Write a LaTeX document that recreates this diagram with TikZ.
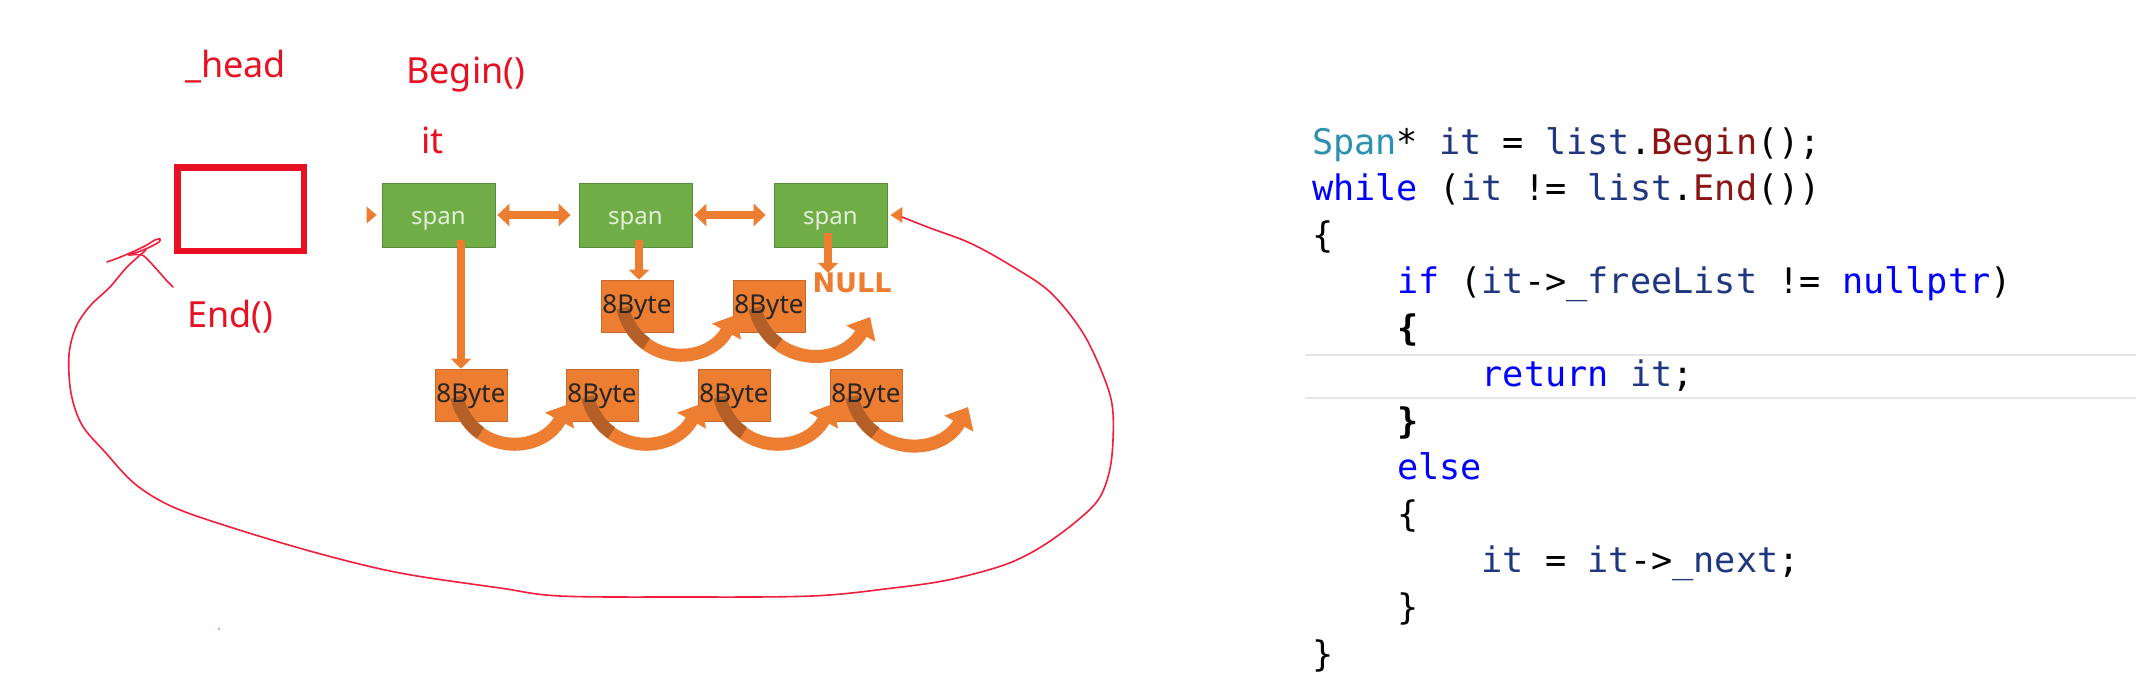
\documentclass[tikz,border=0pt]{standalone}
\usepackage{fontspec}
\setmainfont{Noto Sans}
\newfontfamily\codefont{DejaVu Sans Mono}
\newfontfamily\heavysans{DejaVu Sans}
\usetikzlibrary{arrows.meta,calc}
\definecolor{redlbl}{RGB}{232,17,35}
\definecolor{redpen}{RGB}{240,30,60}
\definecolor{spangreen}{RGB}{112,173,71}
\definecolor{spanedge}{RGB}{90,140,60}
\definecolor{spantext}{RGB}{226,240,217}
\definecolor{orng}{RGB}{237,125,49}
\definecolor{orngdark}{RGB}{181,95,40}
\definecolor{orngedge}{RGB}{200,105,45}
\definecolor{cType}{RGB}{43,145,175}
\definecolor{cVar}{RGB}{31,55,127}
\definecolor{cFun}{RGB}{140,20,20}
\definecolor{cKey}{RGB}{0,0,255}
\definecolor{hl}{RGB}{228,228,234}
\begin{document}
\begin{tikzpicture}[x=1pt,y=-1pt,
  lbl/.style={text=redlbl, font=\fontsize{36}{40}\selectfont, inner sep=0pt, anchor=base west},
  spanbox/.style={fill=spangreen, draw=spanedge, line width=0.8pt, minimum width=113pt, minimum height=64pt, inner sep=0pt, text=spantext, font=\fontsize{24}{28}\selectfont, text height=19pt, text depth=0pt},
  bytebox/.style={fill=orng, draw=orngedge, line width=0.6pt, minimum width=72pt, minimum height=52pt, inner sep=0pt},
  bytetext/.style={text=black!85, font=\fontsize{26}{30}\selectfont, inner sep=0pt, anchor=base},
  nulltext/.style={text=orng, font=\heavysans\bfseries\fontsize{27}{32}\selectfont, inner sep=0pt},
  dbl/.style={draw=orng, line width=8pt, {Triangle[length=12pt,width=22pt]}-{Triangle[length=12pt,width=22pt]}},
  down/.style={draw=orng, line width=8pt, -{Triangle[length=10pt,width=20pt]}},
  curl/.style={draw=orng, line width=13pt, -{Triangle[length=19pt,width=32pt]}},
  curlback/.style={draw=orngdark, line width=13pt, dash pattern=on 44pt off 2000pt},
  pen/.style={draw=redpen, line width=1.6pt, line cap=round, line join=round},
  code/.style={font=\codefont\fontsize{35.2}{40}\selectfont, inner sep=0pt, anchor=base west},
]
\fill[white] (0,0) rectangle (2136,688);
\useasboundingbox (0,0) rectangle (2136,688);

% red labels
\node[lbl] (head) at (185,77) {\_head};
\node[lbl] (begin) at (406,83) {Begin()};
\node[lbl] (it) at (421,153) {it};
\node[lbl] (end) at (187,327) {End()};
\node[draw=redlbl, line width=6.5pt, minimum width=126.5pt, minimum height=83.5pt, inner sep=0pt] (headbox) at (240.5,209) {};

% spans
\node[spanbox] (s1) at (438.5,215) {span};
\node[spanbox] (s2) at (635.5,215) {span};
\node[spanbox] (s3) at (830.5,215) {span};

\fill[orng] ($(s1.west)+(-5,0)$) -- ++(-10,-8.5) -- ++(0,17) -- cycle;
\fill[orng] ($(s3.east)+(3,0)$) -- ++(12,-8) -- ++(0,16) -- cycle;

\draw[dbl] ($(s1.east)+(2,0)$) -- ($(s2.west)+(-8,0)$);
\draw[dbl] ($(s2.east)+(2,0)$) -- ($(s3.west)+(-8,0)$);

% byte boxes
\node[bytebox] (m1) at (637,306) {};
\node[bytebox] (m2) at (769,306) {};
\node[bytebox] (b1) at (471,395) {};
\node[bytebox] (b2) at (602,395) {};
\node[bytebox] (b3) at (734,395) {};
\node[bytebox] (b4) at (866,395) {};
\coordinate (mend) at (870,317);
\coordinate (bend) at (968,407);

\node[nulltext] (null) at (852,283) {NULL};

\draw[down] ($(s1.south)+(22.5,-7)$) -- ($(b1.north)+(-10,0)$);
\draw[down] ($(s2.south)+(3.5,-7)$) -- ($(m1.north)+(2,0)$);
\draw[down] ($(s3.south)+(-2.5,-14)$) -- ($(null.north)+(-24,0)$);

% curved arrows
\foreach \a/\b in {m1/m2, b1/b2, b2/b3, b3/b4}{
  \draw[curl] ($(\a.west)+(22,2)$) .. controls +(14.8,58) and +(-28.5,52) .. ($(\b.west)+(3,9)$);
  \draw[curlback] ($(\a.west)+(22,2)$) .. controls +(14.8,58) and +(-28.5,52) .. ($(\b.west)+(3,9)$);
}
\draw[curl] ($(m2.west)+(22,2)$) .. controls +(14.8,58) and +(-28.5,52) .. (mend);
\draw[curlback] ($(m2.west)+(22,2)$) .. controls +(14.8,58) and +(-28.5,52) .. (mend);
\draw[curl] ($(b4.west)+(22,2)$) .. controls +(14.8,58) and +(-28.5,52) .. (bend);
\draw[curlback] ($(b4.west)+(22,2)$) .. controls +(14.8,58) and +(-28.5,52) .. (bend);

\foreach \n in {m1,m2,b1,b2,b3,b4}{
  \node[bytetext] (t\n) at ($(\n.center)+(0,7)$) {8Byte};
}

% red hand-drawn loop
\coordinate (redstart) at (902,217);
\coordinate (redend) at (146,250);
\draw[pen] plot[smooth, tension=0.55] coordinates {(redstart) (930,228) (970,243) (1010,265) (1050,292) (1083,333) (1105,380) (1113,413) (1111,463) (1100,497) (1078,520) (1041,547) (1004,565) (948,580) (893,588) (812,596) (680,597) (560,596) (500,588) (400,573) (317,553) (233,528) (173,507) (135,484) (105,452) (82,425) (71,393) (69,355) (76,327) (90,306) (110,287) (127,267) (redend)};
\draw[pen] plot[smooth, tension=0.5] coordinates {(107,262) (118,258) (130,253) (145,246) (155,240) (160,239) (159,242) (150,247) (138,252) (129,255)};
\draw[pen] plot[smooth, tension=0.5] coordinates {(129,255) (142,255) (150,262) (160,273) (167,281) (173,287)};
\fill[redpen!60] (219,629) circle (1.2);

% code
\draw[hl, line width=2.5pt] (1305,355) -- (2136,355);
\draw[hl, line width=2.5pt] (1305,398) -- (2136,398);
\node[code] (c1) at (1312,154) {\textcolor{cType}{Span}* \textcolor{cVar}{it} = \textcolor{cVar}{list}.\textcolor{cFun}{Begin}();};
\node[code] (c2) at (1312,200.5) {\textcolor{cKey}{while} (\textcolor{cVar}{it} != \textcolor{cVar}{list}.\textcolor{cFun}{End}())};
\node[code] (c3) at (1312,247.1) {\{};
\node[code] (c4) at (1396.8,293.6) {\textcolor{cKey}{if} (\textcolor{cVar}{it}->\textcolor{cVar}{\_freeList} != \textcolor{cKey}{nullptr})};
\node[code] (c5) at (1396.8,340.2) {\bfseries\{};
\node[code] (c6) at (1481.5,386.7) {\textcolor{cKey}{return} \textcolor{cVar}{it};};
\node[code] (c7) at (1396.8,433.3) {\bfseries\}};
\node[code] (c8) at (1396.8,479.8) {\textcolor{cKey}{else}};
\node[code] (c9) at (1396.8,526.4) {\{};
\node[code] (c10) at (1481.5,572.9) {\textcolor{cVar}{it} = \textcolor{cVar}{it}->\textcolor{cVar}{\_next};};
\node[code] (c11) at (1396.8,619.5) {\}};
\node[code] (c12) at (1312,666) {\}};
\end{tikzpicture}
\end{document}
